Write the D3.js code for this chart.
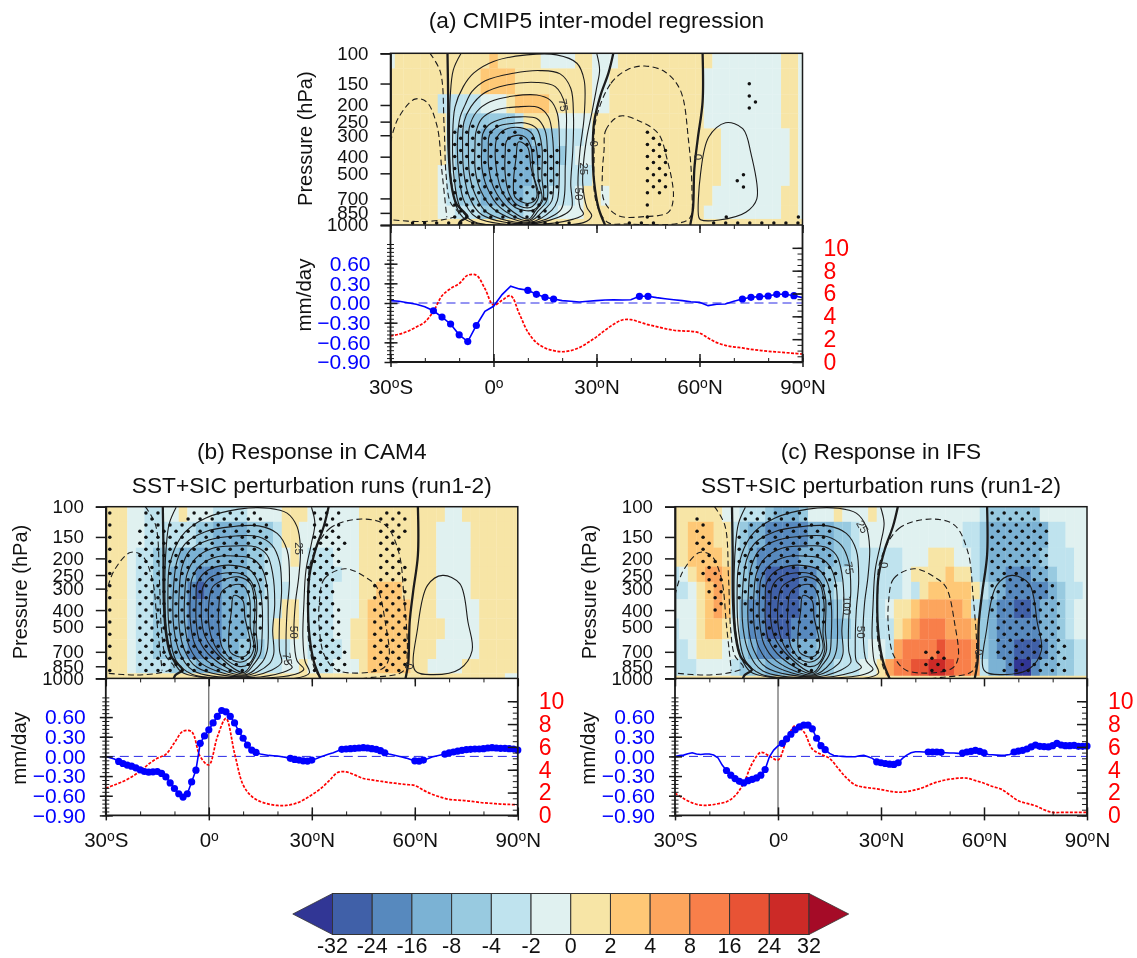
<!DOCTYPE html>
<html lang="en">
<head>
  <meta charset="UTF-8">
  <title>CMIP5 inter-model regression and model responses</title>
  <script src="https://d3js.org/d3.v7.min.js"></script>
  <style>
    body { margin: 0; background: #fff; }
    svg { filter: blur(0.35px); }
    text { font-family: "Liberation Sans", Arial, sans-serif; fill: #111; }
    .domain { stroke: #1a1a1a; stroke-width: 1.8; }
    .tick line { stroke: #1a1a1a; stroke-width: 1.5; }
    .minor line { stroke-width: 1; }
  </style>
</head>
<body>
  <div id="chart"></div>

  <script>
    // pressure levels of the shaded field, one row per level
    const levels = [100, 150, 200, 250, 300, 400, 500, 700, 850, 1000];
    const pressureTicks = levels;

    // colour classes a..n, from below -32 to above 32
    const classCodes = "abcdefghijklmn".split("");
    const classColors = ["#313695", "#4060a8", "#5789be", "#7bb2d4", "#98cae0", "#bfe3ee", "#e0f1f0",
      "#f7e5a6", "#fec876", "#fca55d", "#f87f4a", "#e85335", "#cc2a27", "#a50b27"];
    const colorbarLabels = [-32, -24, -16, -8, -4, -2, 0, 2, 4, 8, 16, 24, 32];

    // shaded field, run-length coded over the 2.5 degree latitudes (one string per level)
    const fillA = [
      "g h11 i h5 g4 h2 g3 h11 g8 h2 g",
      "h11 i4 h9 g2 h11 g9 h2 g",
      "h6 f5 g3 h i4 h5 g2 h11 g9 h2 g",
      "h7 f2 e6 f h4 g4 h13 g9 h2 g",
      "h7 f e3 d6 e3 f3 g h15 g8 h g",
      "h7 f e3 d7 e3 f g2 h15 g8 h g",
      "h6 g f e3 d6 e3 f4 h15 g8 h g",
      "h6 g f e3 d5 e3 f3 g h2 g h12 g8 h2 g",
      "h6 g2 f3 e5 f4 g3 h14 g9 h2 g",
      "h49"
    ];
    const fillB = [
      "h3 g2 f2 g2 h g3 f4 g4 h3 g6 h10 g2 h7",
      "h3 g2 f6 e2 d4 e3 f h2 g g6 h9 g4 h6",
      "h3 g f2 e3 d8 e2 f2 g h g f3 g3 h9 g4 h6",
      "h3 g f2 e2 d3 c3 d3 e2 f2 g3 f4 g2 h9 g4 h6",
      "h3 g f2 e2 d2 c b c2 d3 e2 f3 g2 f3 g3 h2 i3 h4 g4 h6",
      "h3 g f2 e2 d2 c4 d3 e f3 h2 g f3 g3 h i5 h3 g5 h5",
      "h3 g f2 e2 d2 c4 d3 e f2 h3 g f3 g2 h2 i5 h4 g4 h5",
      "h3 g f2 e2 d2 c4 d2 e3 f3 g2 f4 g h2 i5 h3 g5 h5",
      "h3 g f4 e3 d3 e3 f4 g2 h g f2 g3 h i5 h2 g4 h7",
      "h47 g2"
    ];
    const fillC = [
      "h6 g2 f3 e d3 e g3 h g3 h g12 f e6 g6",
      "h2 i3 h2 f e d2 c5 d3 e2 f g12 f2 e d7 f2 g3",
      "h2 i4 h f e d c5 d4 e2 f6 g3 h3 g2 f e d6 e f3 g2",
      "f g h i j2 i f e d c b4 c2 d e2 f7 g h4 i h2 f e d2 c3 d2 e f2 g2",
      "f2 g h i j i f e d c b4 c2 d e f8 g f h i5 h f e d c5 d e f2 g2",
      "g3 h i j i f d c2 b4 c2 d2 e f5 g h2 i j5 i f e d c2 b2 c d2 e f g2",
      "f g2 h i2 h g d c2 b3 c3 d3 e f5 h i j k3 j3 i e d c5 d2 e f g2",
      "f2 g h3 g2 e d c4 d3 e3 f3 g2 f j k4 l k3 j e d c2 b3 c d e2 f2",
      "f3 g4 f e3 d4 e4 f3 g2 h j k2 l2 m2 l k2 j f d2 c a2 c d2 e2 f2",
      "h49"
    ];

    // contours as [latitude, log10(p/100)] vertices
    const hadleyA = [
      [[-9.5,.003],[-11.7,.095],[-12.6,.249],[-12.8,.48],[-12.4,.71],[-10.7,.883],[-8.3,.95],[-4.9,.975],[10.2,.987],[26.2,.97],[28.6,.931],[27.2,.883],[26,.748],[26.2,.633],[27.2,.48],[28.6,.345],[30.1,.191],[30.9,.095],[30.1,.003]],
      [[-11.9,.48],[-11.2,.307],[-8.8,.191],[-5.8,.114],[0,.047],[9.7,.009],[18.4,.009],[24.3,.057],[26.4,.153],[26.4,.364],[25.2,.556],[24.6,.748],[25.2,.883],[26.2,.921],[23.3,.95],[10.2,.985],[-5.8,.964],[-9.7,.883],[-11.5,.71]],
      [[-10.5,.499],[-9.7,.364],[-8.3,.297],[-6.3,.22],[-2.4,.157],[5.8,.114],[13.6,.099],[19.4,.118],[22.5,.2],[23.3,.364],[23.1,.556],[22.5,.748],[22.8,.883],[20.9,.921],[10.2,.98],[-4.9,.941],[-8.6,.844],[-10,.71]],
      [[-9,.518],[-8.6,.393],[-6.6,.307],[-2.9,.23],[3.9,.182],[12.6,.167],[18,.191],[20.9,.297],[21.2,.46],[20.9,.652],[20.6,.825],[19.4,.902],[10.2,.975],[-3.4,.925],[-7,.825],[-8.6,.691]],
      [[-7.3,.537],[-7,.422],[-4.9,.335],[-1,.278],[5.8,.245],[12.6,.239],[16.5,.268],[18.6,.345],[19.2,.518],[19.2,.652],[18.6,.844],[17,.898],[10.2,.97],[-1.9,.912],[-5.4,.806],[-7,.691]],
      [[-5.4,.537],[-5.1,.45],[-3.4,.374],[.5,.326],[6.8,.307],[13.1,.31],[16,.364],[17.2,.48],[17.5,.652],[17,.844],[15,.892],[10.2,.965],[0,.892],[-3.7,.787],[-5.3,.672]],
      [[-3.4,.537],[-3.1,.46],[-1.5,.412],[2.9,.374],[7.8,.364],[12.6,.374],[15,.441],[15.7,.556],[15.7,.71],[15.5,.844],[13.1,.902],[10.2,.958],[1.9,.883],[-1.9,.767],[-3.4,.652]],
      [[-1.5,.547],[-1.2,.47],[1.4,.418],[5.3,.402],[9.2,.399],[12.6,.431],[14.1,.537],[14.1,.71],[14.5,.835],[12.1,.906],[10.2,.95],[3.9,.879],[0,.767],[-1.4,.652]],
      [[.5,.556],[1.1,.48],[3.4,.437],[7.8,.426],[11.2,.46],[12.6,.556],[13.1,.73],[14.1,.835],[11.6,.898],[6.3,.883],[2.4,.787],[.9,.672]],
      [[3.4,.575],[3.9,.499],[6.6,.47],[9.2,.48],[10.9,.537],[11.6,.691],[13.1,.825],[10.7,.883],[6.8,.867],[4.4,.797],[3.4,.691]],
      [[7.3,.508],[9.9,.537],[10.9,.652],[12.6,.825],[10.2,.86],[6.3,.825],[5.8,.748],[6.6,.595]]
    ];
    const hadleyBC = [
      [[-9.5,.003],[-11.5,.095],[-12.4,.23],[-12.8,.48],[-12.3,.71],[-10.7,.864],[-8,.946],[-2.9,.975],[10.2,.989],[25.2,.985],[29.3,.952],[28,.883],[27.4,.748],[27.7,.556],[28.3,.364],[29.9,.21],[30.9,.095],[29.9,.003]],
      [[-11.9,.48],[-11.5,.345],[-9.2,.21],[-6.8,.143],[-1,.066],[8.7,.014],[17.5,.009],[22.8,.037],[25.7,.114],[26.7,.239],[26.2,.402],[25.2,.556],[24.8,.72],[25.7,.883],[27.7,.931],[25.2,.96],[10.2,.985],[-4.9,.96],[-9.5,.883],[-11.5,.71]],
      [[-10.2,.441],[-9.2,.307],[-6.8,.21],[-1,.143],[6.8,.114],[14.5,.11],[19.9,.153],[22.8,.249],[23.5,.422],[22.8,.595],[22.5,.787],[22.8,.883],[24.3,.921],[21.4,.95],[10.2,.98],[-4.4,.941],[-8.3,.844],[-10.2,.691]],
      [[-8.6,.48],[-7.8,.345],[-5.4,.249],[0,.191],[7.8,.168],[14.5,.172],[18.4,.22],[20.6,.316],[21.2,.48],[20.6,.652],[20.6,.825],[21.2,.892],[18.4,.935],[10.2,.975],[-3.4,.921],[-7,.825],[-8.6,.691]],
      [[-7,.499],[-6.3,.383],[-3.9,.297],[.9,.239],[7.8,.225],[13.6,.23],[17,.278],[18.6,.383],[19.2,.556],[18.6,.71],[18.9,.844],[17.5,.902],[10.2,.97],[-1.9,.902],[-5.6,.806],[-7,.672]],
      [[-5.4,.518],[-4.9,.412],[-2.4,.335],[2.4,.287],[7.8,.283],[12.6,.297],[15.5,.355],[17,.46],[17.3,.633],[17,.825],[15.5,.892],[10.2,.965],[-.5,.883],[-4.1,.787],[-5.4,.652]],
      [[-3.7,.537],[-3.4,.441],[-1,.374],[3.4,.339],[8.2,.339],[12.1,.364],[14.5,.441],[15.5,.556],[15.5,.748],[15,.844],[13.1,.902],[10.2,.958],[.9,.864],[-2.7,.767],[-3.7,.652]],
      [[-2.1,.547],[-1.7,.46],[.5,.406],[4.8,.38],[9.2,.383],[12.1,.422],[13.8,.518],[13.8,.71],[14.1,.825],[12.6,.892],[10.2,.95],[2.9,.854],[-1,.748],[-2.1,.652]],
      [[0,.556],[1.1,.46],[4.4,.418],[8.7,.402],[12.1,.441],[13.4,.556],[13.1,.73],[13.6,.825],[11.6,.902],[8.7,.915],[3.4,.844],[.5,.73]],
      [[2.9,.575],[3.7,.489],[6.8,.45],[9.9,.45],[11.8,.518],[12.1,.691],[13.1,.816],[10.7,.883],[7.3,.883],[3.9,.806],[2.9,.691]],
      [[7.3,.508],[9.9,.537],[10.5,.633],[12.1,.806],[10.2,.86],[6.3,.835],[5.8,.748],[6.6,.595]]
    ];
    const zeroLines = [
      [[-13.4,0],[-13.2,.268],[-13.1,.556],[-12.4,.748],[-10.9,.873],[-8.3,.931],[-7.6,.95],[-9.7,.98],[-10.2,1]],
      [[34.9,0],[33.5,.114],[31.1,.249],[29.3,.402],[28.9,.556],[29.3,.748],[30.6,.902],[32.5,1]],
      [[60.9,0],[60.9,.283],[59.5,.497],[58.5,.673],[58.1,.906],[57.3,1]]
    ];
    const dashedSouth = [
      [[-18.5,0],[-15.5,.107],[-14.4,.419],[-13.8,.711],[-12.6,.867],[-10.1,.936],[-13.6,.965],[-21.4,.98],[-30,.969]],
      [[-30,.517],[-27.8,.38],[-22.9,.267],[-19.5,.283],[-16.5,.419],[-15,.692],[-13.6,.955]]
    ];
    const dashedNorthA = [
      [[29.8,.39],[34.2,.175],[39.1,.094],[44,.074],[49.9,.107],[54.4,.214],[56.8,.507],[57.8,.799],[57.3,.955],[53.9,.99],[39.1,.994],[33.2,.984],[29.8,.858],[29.3,.604]],
      [[32.2,.565],[32.7,.448],[36.7,.366],[43.1,.4],[48,.468],[50.4,.604],[52.4,.838],[50.9,.926],[44,.951],[36.2,.945],[32.2,.858],[31.7,.702]]
    ];
    const dashedNorthBC = [
      [[29.7,.322],[35.2,.127],[44.5,.072],[51.4,.107],[55.3,.263],[56.8,.517],[57.8,.848],[56.8,.955],[47.5,.994],[32.7,.994],[29.3,.809],[29,.517]],
      [[32.2,.556],[33.7,.419],[39.6,.361],[45.5,.409],[48.9,.468],[51.4,.673],[52.4,.887],[50.4,.945],[37.6,.955],[33.7,.867],[32.2,.711]]
    ];
    const polarCellA = [[59.8,.955],[60.3,.702],[62.7,.487],[67.6,.404],[72.6,.439],[75,.585],[76.7,.848],[73.5,.926],[65.7,.971],[60.3,.969]];
    const polarCellBC = [[60.1,.955],[60.8,.711],[63.7,.458],[68.1,.4],[73.1,.448],[75.5,.673],[76.7,.838],[73.1,.945],[65.2,.978]];

    // contour labels: text, latitude, log10(p/100), rotation
    const labelsA = [["75",20.4,.302,80],["25",26.5,.673,90],["50",24.9,.819,90],["0",29.3,.526,90],["0",59.6,.604,90]];
    const labelsB = [["25",26.3,.244,90],["50",24.8,.731,90],["75",22.9,.887,80],["0",58.3,.93,90]];
    const labelsC = [["25",24.6,.117,60],["75",20.7,.357,80],["100",20,.575,90],["50",24.3,.731,90],["0",31,.341,90],["0",58.6,.848,90]];

    // significance regions, dots are placed on a staggered lattice inside them
    const stippleA = [
      [[-12,.409],[1.8,.409],[9.6,.478],[20,.556],[20,.721],[16.5,.858],[14,.975],[-12,.975]],
      [[43.5,.44],[47.5,.44],[52,.62],[50.5,.84],[43.5,.84]],
      [[-24,.975],[-4,.975],[-4,1],[-24,1]],
      [[2,.975],[25,.975],[25,1],[2,1]],
      [[38,.975],[50,.975],[50,1],[38,1]],
      [[64,.975],[90,.975],[90,1],[64,1]]
    ];
    const stippleExtraA = [[74.5,.178],[74.5,.248],[76.3,.284],[74.5,.319],[72.8,.707],[71,.742],[72.8,.778],[44.8,.883],[44.8,.954],[67.8,.954],[88.8,.954]];
    const stippleB = [
      [[-30,.02],[-27.5,.02],[-27.5,.99],[-30,.99]],
      [[-20.2,.127],[-18.3,.01],[-14.5,.01],[-12.6,.097],[-1.8,.01],[15,.01],[18.4,.127],[17.4,.322],[16.9,.556],[15.5,.673],[13,.848],[12.5,.975],[-20.2,.975]],
      [[29.5,.01],[38.4,.01],[39.8,.224],[37.6,.4],[38.1,.711],[41.1,.955],[30.2,.975],[28.8,.517]],
      [[50.2,.029],[57.8,.029],[56.8,.224],[57.8,.439],[58.8,.965],[47,.965],[48,.517],[48.9,.322],[49.4,.127]]
    ];
    const stippleC = [
      [[-24.9,.049],[-22.6,.049],[-20.2,.166],[-16.7,.4],[-15.7,.575],[-18.7,.614],[-21.1,.517],[-22.6,.322],[-24.9,.185]],
      [[-12.3,.166],[-8.8,.02],[8.4,.02],[15.8,.146],[17.7,.38],[16.3,.556],[12.8,.75],[10.8,.965],[6.4,.965],[-1.5,.848],[-7.4,.711],[-11.6,.517]],
      [[61.5,.029],[75.8,.029],[78.8,.166],[78.8,.361],[82.2,.575],[84.4,.955],[65,.955],[62.5,.711],[61.5,.322]],
      [[41.8,.828],[47.6,.828],[49.7,.965],[41.8,.965]]
    ];

    // lower panels: precipitation change (blue, mm/day) and climatology (red, mm/day)
    const blueA = [.036,.026,.005,-.02,-.056,-.118,-.215,-.32,-.486,-.588,-.343,-.128,-.05,.128,.256,.215,.194,.133,.087,.061,.036,.026,.015,.026,.036,.046,.05,.046,.05,.102,.102,.082,.066,.05,.036,.02,.01,-.04,-.02,-.015,.026,.061,.087,.097,.107,.133,.133,.112,.082];
    const redA = [2.28,2.43,2.69,3.07,3.5,4.44,5.8,6.43,6.87,7.6,7.6,6.43,4.97,5.41,5.8,4.24,2.63,1.7,1.23,1,.9,1,1.26,1.7,2.2,2.78,3.3,3.68,3.71,3.5,3.27,3.1,2.92,2.78,2.72,2.69,2.54,2.1,1.7,1.46,1.32,1.23,1.11,1.02,.94,.88,.82,.76,.7];
    const blueB = [0,-.02,-.04,-.077,-.108,-.133,-.149,-.174,-.205,-.23,-.24,-.236,-.23,-.26,-.313,-.405,-.49,-.57,-.62,-.57,-.39,-.21,.2,.313,.405,.51,.61,.7,.68,.61,.51,.38,.277,.174,.097,.06,.036,.026,.015,.01,.005,-.005,-.015,-.03,-.046,-.056,-.067,-.072,-.056,-.036,-.01,.015,.036,.056,.082,.108,.113,.118,.123,.128,.133,.128,.118,.108,.087,.056,.036,.02,.005,-.01,-.026,-.046,-.067,-.072,-.056,-.036,-.01,.005,.02,.036,.056,.067,.082,.092,.103,.108,.113,.113,.118,.128,.133,.128,.123,.123,.118,.113,.097];
    const redB = [2.38,2.67,2.97,3.37,3.87,4.5,5,5.35,6.37,7.38,7.33,5.15,4.42,6.89,8.49,5.44,2.67,1.66,1.22,.99,.87,.87,1.02,1.34,1.8,2.33,3.02,3.75,3.81,3.55,3.23,3.11,2.99,2.88,2.79,2.7,2.62,2.21,1.86,1.6,1.4,1.34,1.28,1.19,1.1,1.05,.99,.96,.93];
    const blueC = [0,.015,.02,.04,.056,.036,.03,.036,.036,.02,-.02,-.133,-.215,-.287,-.338,-.38,-.405,-.37,-.35,-.328,-.287,-.2,-.005,.097,.159,.2,.267,.338,.405,.451,.477,.477,.42,.277,.164,.103,.046,.015,.005,0,-.005,-.005,-.005,.01,.015,-.005,-.03,-.082,-.097,-.108,-.118,-.123,-.097,-.03,.02,.056,.072,.072,.067,.067,.067,.067,.062,.056,.051,.051,.046,.051,.067,.077,.092,.077,.056,.03,.026,.02,.015,.02,.03,.067,.082,.092,.113,.144,.174,.154,.149,.144,.164,.2,.174,.164,.164,.169,.154,.154,.159];
    const redC = [1.95,1.48,1.1,.9,.9,1.02,1.19,1.72,2.82,4.56,5.52,5.2,4.85,6.6,7.85,7.33,5.81,5.35,5,4.13,3.26,2.67,2.47,2.38,2.27,2.12,2.03,2.09,2.24,2.47,2.79,3.02,3.17,3.26,3.26,3.05,2.82,2.53,2.3,1.8,1.28,1.05,.84,.49,.26,.26,.26,.26,.26];
    // latitude ranges where the blue curve is significant
    const sigA = [[-17.5,-5],[10,17.5],[42.5,45],[72.5,87.5]];
    const sigB = [[-26.25,13.75],[23.75,30],[38.75,51.25],[60,62.5],[68.75,90]];
    const sigC = [[-15,-3.75],[1.25,13.75],[28.75,35],[43.75,47.5],[53.75,60],[68.75,90]];

    const lats25 = d3.range(-30, 90.1, 2.5);
    const lats125 = d3.range(-30, 90.1, 1.25);
    const latTicks = [-30, 0, 30, 60, 90];
    const latMinorTicks = d3.range(-30, 90.1, 10);
    const blueTicks = [-0.9, -0.6, -0.3, 0, 0.3, 0.6];
    const blueMinorTicks = d3.range(-0.9, 0.901, 0.06);
    const redTicks = [0, 2, 4, 6, 8, 10];
    const redMinorTicks = d3.range(0, 10.1, 0.5);

    // contours were read against an axis a little too long, this brings them back to 1000 hPa
    const hadleyStretch = 1.0166;

    const panelW = 412, mapH = 171.7, lowerH = 137;
    const svg = d3.select("#chart").append("svg").attr("width", 1137).attr("height", 958);
    const fillColor = d3.scaleOrdinal(classCodes, classColors);

    // expand "h6 g f2" into one code per latitude
    function expandRow(row) {
      const out = [];
      row.split(" ").forEach(tok => {
        const n = tok.length > 1 ? +tok.slice(1) : 1;
        for (let i = 0; i < n; i++) out.push(tok[0]);
      });
      return out;
    }

    function latText(sel) {
      sel.text(null).each(function (d) {
        const t = d3.select(this);
        const head = d === 0 ? "0" : Math.abs(d);
        const tail = d === 0 ? "" : (d < 0 ? "S" : "N");
        t.append("tspan").text(head);
        t.append("tspan").attr("dy", "-0.42em").attr("font-size", "68%").text("o");
        t.append("tspan").attr("dy", "0.29em").text(tail);
      });
    }

    function drawPanel(p) {
      const g = svg.append("g").attr("transform", `translate(${p.x},${p.y})`);
      const x = d3.scaleLinear().domain([-30, 90]).range([0, panelW]);
      const y = d3.scaleLog().domain([100, 1000]).range([0, mapH]);
      const yF = f => y(100 * Math.pow(10, Math.min(f, 1)));
      const clipId = "clip-" + p.id;
      g.append("clipPath").attr("id", clipId).append("rect")
        .attr("width", panelW).attr("height", mapH);
      const map = g.append("g").attr("clip-path", `url(#${clipId})`);

      // shading, cell edges halfway between grid points
      const rowEdge = i => {
        if (i <= 0) return 100;
        if (i >= levels.length) return 1000;
        if (i === levels.length - 1) return p.lowEdge;
        return Math.sqrt(levels[i - 1] * levels[i]);
      };
      p.fill.forEach((row, r) => {
        map.selectAll(null).data(expandRow(row)).enter().append("rect")
          .attr("x", (d, i) => x(Math.max(-30, lats25[i] - 1.25)))
          .attr("width", (d, i) => x(Math.min(90, lats25[i] + 1.25)) - x(Math.max(-30, lats25[i] - 1.25)) + 0.3)
          .attr("y", y(rowEdge(r)))
          .attr("height", y(rowEdge(r + 1)) - y(rowEdge(r)) + 0.3)
          .attr("fill", d => fillColor(d));
      });

      // contours
      const line = d3.line().x(d => x(d[0])).y(d => yF(d[1]));
      const stroke = "#1c1c1c";
      const hadley = p.hadley.map(c => c.map(d => [d[0], d[1] * hadleyStretch]));
      hadley.forEach((c, i) => {
        const curve = i === 0 ? d3.curveCatmullRom.alpha(0.5) : d3.curveCatmullRomClosed.alpha(0.5);
        map.append("path").attr("d", line.curve(curve)(c))
          .attr("fill", "none").attr("stroke", stroke).attr("stroke-width", 1.1);
      });
      zeroLines.forEach(c => {
        map.append("path").attr("d", line.curve(d3.curveCatmullRom.alpha(0.5))(c)).attr("fill", "none")
          .attr("stroke", stroke).attr("stroke-width", 2.3);
      });
      dashedSouth.forEach(c => {
        map.append("path").attr("d", line.curve(d3.curveCatmullRom.alpha(0.5))(c)).attr("fill", "none")
          .attr("stroke", stroke).attr("stroke-width", 1.1).attr("stroke-dasharray", "6 3.5");
      });
      p.dashedNorth.forEach(c => {
        map.append("path").attr("d", line.curve(d3.curveCatmullRomClosed.alpha(0.5))(c)).attr("fill", "none")
          .attr("stroke", stroke).attr("stroke-width", 1.1).attr("stroke-dasharray", "6 3.5");
      });
      map.append("path").attr("d", line.curve(d3.curveCatmullRomClosed.alpha(0.5))(p.polar))
        .attr("fill", "none").attr("stroke", stroke).attr("stroke-width", 1.1);

      // stippling on a staggered lattice
      const dots = [];
      for (let c = -45; c <= 30; c++) {
        for (let r = -14; r <= 16; r++) {
          if ((c + r + 200) % 2 !== 0) continue;
          const pt = [44.83 + c * 1.754, 0.46 + r * 0.03527];
          if (p.stipple.some(poly => d3.polygonContains(poly, pt))) dots.push(pt);
        }
      }
      (p.stippleExtra || []).forEach(d => dots.push(d));
      map.selectAll(null).data(dots).enter().append("circle")
        .attr("cx", d => x(d[0])).attr("cy", d => yF(d[1])).attr("r", 1.75).attr("fill", "#111");

      // contour labels
      map.selectAll(null).data(p.labels).enter().append("text")
        .attr("transform", d => `translate(${x(d[1])},${yF(d[2])}) rotate(${d[3]})`)
        .attr("text-anchor", "middle").attr("dy", "0.35em").attr("font-size", 11.5)
        .style("fill", "#333").text(d => d[0]);

      // map frame and pressure axis
      g.append("rect").attr("width", panelW).attr("height", mapH)
        .attr("fill", "none").attr("stroke", "#1a1a1a").attr("stroke-width", 1.5);
      const pAxis = g.append("g").call(d3.axisLeft(y).tickValues(pressureTicks).tickFormat(d3.format("d")).tickSize(10).tickPadding(12));
      pAxis.selectAll("text").attr("font-size", 18.7).style("fill", "#111");
      g.append("text").attr("transform", `translate(${p.labelX},${mapH / 2 - 0.5}) rotate(-90)`)
        .attr("text-anchor", "middle").attr("font-size", 20).text("Pressure (hPa)");

      // lower panel
      const low = g.append("g").attr("transform", `translate(0,${mapH})`);
      const yB = d3.scaleLinear().domain([-0.9, 1.19]).range([lowerH, 0]);
      const yR = d3.scaleLinear().domain([0, 12]).range([lowerH, 0]);

      low.append("line").attr("x1", x(0)).attr("x2", x(0)).attr("y1", 0).attr("y2", lowerH)
        .attr("stroke", "#444").attr("stroke-width", 1);
      low.append("line").attr("x1", 0).attr("x2", panelW).attr("y1", yB(0)).attr("y2", yB(0))
        .attr("stroke", "#2a2ae6").attr("stroke-width", 1).attr("stroke-dasharray", "9 5");

      const redPts = d3.zip(lats25, p.red);
      low.append("path").attr("d", d3.line().curve(d3.curveCatmullRom.alpha(0.5))
        .x(d => x(d[0])).y(d => yR(d[1]))(redPts))
        .attr("fill", "none").attr("stroke", "#ff0000").attr("stroke-width", 1.7).attr("stroke-dasharray", "3 1.5");

      const bluePts = d3.zip(p.blueLats, p.blue);
      low.append("path").attr("d", d3.line().x(d => x(d[0])).y(d => yB(d[1]))(bluePts))
        .attr("fill", "none").attr("stroke", "#0000ff").attr("stroke-width", 1.6);
      low.selectAll(null).data(bluePts.filter(d => p.sig.some(s => d[0] >= s[0] && d[0] <= s[1])))
        .enter().append("circle")
        .attr("cx", d => x(d[0])).attr("cy", d => yB(d[1])).attr("r", 3.6).attr("fill", "#0000ff");

      // left axis, ticks cross the line
      const leftMinor = low.append("g").attr("class", "minor")
        .call(d3.axisLeft(yB).tickValues(blueMinorTicks).tickFormat("").tickSize(3.5));
      leftMinor.selectAll("line").attr("x2", 3.5).attr("x1", -3.5);
      leftMinor.select(".domain").remove();
      const left = low.append("g")
        .call(d3.axisLeft(yB).tickValues(blueTicks).tickFormat(d3.format(".2f")).tickSize(6).tickPadding(5));
      left.selectAll("line").attr("x1", -6).attr("x2", 7);
      left.select(".domain").attr("d", `M0,0V${lowerH}`);
      left.selectAll("text").attr("font-size", 21).style("fill", "#0000ff").attr("x", -20);
      low.append("text").attr("transform", `translate(${p.labelX - 1},${yB(0) - 8}) rotate(-90)`)
        .attr("text-anchor", "middle").attr("font-size", 20.5).text("mm/day");

      // right axis, ticks point inward and the labels stay outside
      const rightMinor = low.append("g").attr("class", "minor").attr("transform", `translate(${panelW},0)`)
        .call(d3.axisLeft(yR).tickValues(redMinorTicks).tickFormat("").tickSize(5));
      rightMinor.select(".domain").remove();
      const right = low.append("g").attr("transform", `translate(${panelW},0)`)
        .call(d3.axisLeft(yR).tickValues(redTicks).tickFormat(d3.format("d")).tickSize(10));
      right.select(".domain").attr("d", `M0,0V${lowerH}`);
      right.selectAll("text").attr("x", 21).attr("text-anchor", "start")
        .attr("font-size", 23).style("fill", "#ff0000");

      // bottom axis and the inward ticks under the map
      const bottomMinor = low.append("g").attr("class", "minor").attr("transform", `translate(0,${lowerH})`)
        .call(d3.axisTop(x).tickValues(latMinorTicks).tickFormat("").tickSize(4));
      bottomMinor.select(".domain").remove();
      const bottom = low.append("g").attr("transform", `translate(0,${lowerH})`)
        .call(d3.axisBottom(x).tickValues(latTicks).tickSize(6));
      bottom.selectAll("line").attr("y1", -8).attr("y2", 5);
      bottom.select(".domain").attr("d", `M0,0H${panelW}`);
      bottom.selectAll("text").attr("y", 17).attr("dy", "0.71em").attr("font-size", 20.5)
        .style("fill", "#111").call(latText);
      const topMinor = low.append("g").attr("class", "minor")
        .call(d3.axisBottom(x).tickValues(latMinorTicks).tickFormat("").tickSize(4));
      topMinor.select(".domain").remove();
      const topMajor = low.append("g")
        .call(d3.axisBottom(x).tickValues(latTicks).tickFormat("").tickSize(8));
      topMajor.select(".domain").remove();

      // titles
      p.titles.forEach((t, i) => {
        g.append("text").attr("x", panelW / 2).attr("y", p.titleY + i * 34)
          .attr("text-anchor", "middle").attr("font-size", 22.7).text(t);
      });
    }

    drawPanel({
      id: "a", x: 390.5, y: 53.3, labelX: -79, titleY: -25, lowEdge: 922,
      fill: fillA, hadley: hadleyA, dashedNorth: dashedNorthA, polar: polarCellA, labels: labelsA,
      stipple: stippleA, stippleExtra: stippleExtraA,
      blue: blueA, blueLats: lats25, red: redA, sig: sigA,
      titles: ["(a) CMIP5 inter-model regression"]
    });
    drawPanel({
      id: "b", x: 105.8, y: 506.7, labelX: -79, titleY: -48, lowEdge: 935,
      fill: fillB, hadley: hadleyBC, dashedNorth: dashedNorthBC, polar: polarCellBC, labels: labelsB,
      stipple: stippleB,
      blue: blueB, blueLats: lats125, red: redB, sig: sigB,
      titles: ["(b) Response in CAM4", "SST+SIC perturbation runs (run1-2)"]
    });
    drawPanel({
      id: "c", x: 675, y: 506.7, labelX: -79, titleY: -48, lowEdge: 965,
      fill: fillC, hadley: hadleyBC, dashedNorth: dashedNorthBC, polar: polarCellBC, labels: labelsC,
      stipple: stippleC,
      blue: blueC, blueLats: lats125, red: redC, sig: sigC,
      titles: ["(c) Response in IFS", "SST+SIC perturbation runs (run1-2)"]
    });

    // colour bar, boxes between the labelled values
    const cbX = d3.scaleLinear().domain([0, colorbarLabels.length - 1]).range([332.5, 809]);
    const cbTop = 893.5, cbH = 41;
    const cb = svg.append("g");
    cb.selectAll("rect").data(classColors.slice(1, -1)).enter().append("rect")
      .attr("x", (d, i) => cbX(i)).attr("width", cbX(1) - cbX(0))
      .attr("y", cbTop).attr("height", cbH)
      .attr("fill", d => d).attr("stroke", "#333").attr("stroke-width", 1);
    cb.append("path")
      .attr("d", `M${cbX(0)},${cbTop}L${cbX(-1)},${cbTop + cbH / 2}L${cbX(0)},${cbTop + cbH}Z`)
      .attr("fill", classColors[0]).attr("stroke", "#333").attr("stroke-width", 0.8);
    cb.append("path")
      .attr("d", `M${cbX(12)},${cbTop}L${cbX(13)},${cbTop + cbH / 2}L${cbX(12)},${cbTop + cbH}Z`)
      .attr("fill", classColors[13]).attr("stroke", "#333").attr("stroke-width", 0.8);
    cb.selectAll("text").data(colorbarLabels).enter().append("text")
      .attr("x", (d, i) => cbX(i)).attr("y", 953.3)
      .attr("text-anchor", "middle").attr("font-size", 21.5).text(d => d);
  </script>
</body>
</html>
